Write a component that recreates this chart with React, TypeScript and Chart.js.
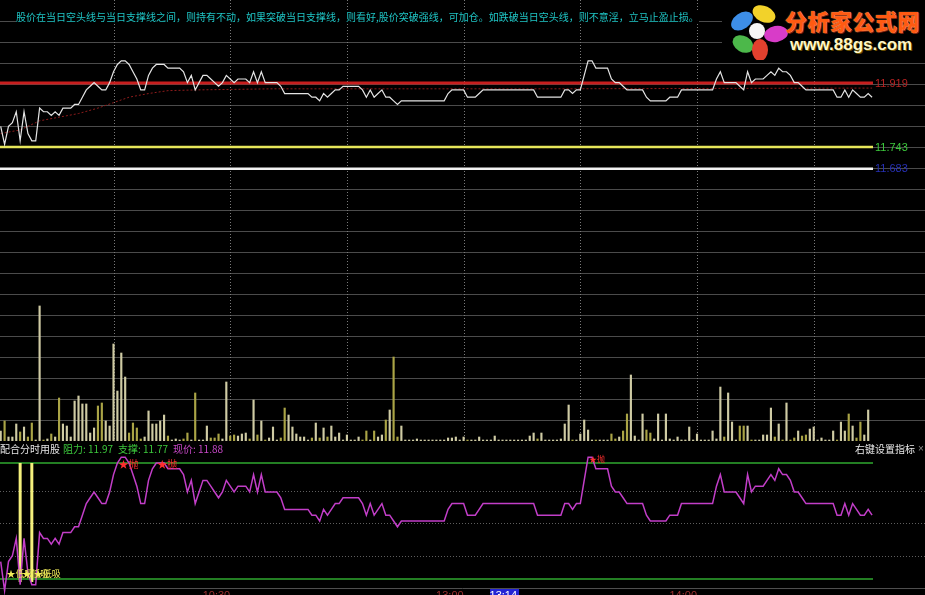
import { useEffect, useRef } from "react";
import { Chart, registerables } from "chart.js";

Chart.register(...registerables);

// ---------------- data (one value per minute, index 0 = 9:31) ----------------
const PRICE: number[] = [
  11.80, 11.75, 11.80, 11.81, 11.84, 11.76, 11.84, 11.78, 11.76, 11.76,
  11.85, 11.84, 11.84, 11.83, 11.84, 11.83, 11.85, 11.85, 11.85, 11.86,
  11.86, 11.88, 11.90, 11.91, 11.92, 11.91, 11.90, 11.90, 11.92, 11.95,
  11.97, 11.98, 11.98, 11.97, 11.95, 11.93, 11.90, 11.90, 11.94, 11.96,
  11.97, 11.97, 11.97, 11.96, 11.96, 11.96, 11.96, 11.95, 11.92, 11.94,
  11.90, 11.92, 11.94, 11.94, 11.93, 11.92, 11.91, 11.92, 11.94, 11.93,
  11.92, 11.93, 11.93, 11.93, 11.92, 11.95, 11.92, 11.95, 11.92, 11.92,
  11.92, 11.92, 11.91, 11.89, 11.89, 11.89, 11.89, 11.89, 11.89, 11.89,
  11.88, 11.88, 11.87, 11.89, 11.88, 11.89, 11.90, 11.90, 11.91, 11.91,
  11.91, 11.91, 11.91, 11.90, 11.88, 11.90, 11.88, 11.89, 11.90, 11.88,
  11.88, 11.87, 11.86, 11.87, 11.87, 11.87, 11.87, 11.87, 11.87, 11.87,
  11.87, 11.87, 11.87, 11.87, 11.87, 11.89, 11.90, 11.90, 11.90, 11.90,
  11.88, 11.88, 11.88, 11.89, 11.90, 11.90, 11.90, 11.90, 11.90, 11.90,
  11.90, 11.90, 11.90, 11.90, 11.90, 11.90, 11.90, 11.90, 11.88, 11.88,
  11.88, 11.88, 11.88, 11.88, 11.88, 11.90, 11.90, 11.89, 11.90, 11.90,
  11.94, 11.98, 11.98, 11.96, 11.96, 11.96, 11.96, 11.93, 11.92, 11.92,
  11.91, 11.90, 11.90, 11.90, 11.90, 11.90, 11.88, 11.87, 11.87, 11.87,
  11.87, 11.87, 11.88, 11.88, 11.88, 11.90, 11.90, 11.90, 11.90, 11.90,
  11.90, 11.90, 11.90, 11.90, 11.93, 11.95, 11.92, 11.92, 11.92, 11.92,
  11.91, 11.90, 11.95, 11.92, 11.93, 11.93, 11.93, 11.94, 11.95, 11.94,
  11.96, 11.95, 11.95, 11.94, 11.92, 11.92, 11.91, 11.90, 11.90, 11.90,
  11.90, 11.90, 11.90, 11.90, 11.90, 11.88, 11.88, 11.90, 11.88, 11.90,
  11.89, 11.88, 11.88, 11.89, 11.88,
];

const VOLUME: number[] = [
  143, 286, 57, 57, 243, 129, 200, 57, 257, 14,
  1929, 14, 29, 100, 57, 614, 243, 214, 57, 571,
  643, 529, 529, 114, 186, 500, 543, 286, 214, 1386,
  714, 1257, 914, 114, 257, 186, 29, 57, 429, 243,
  243, 286, 371, 71, 14, 29, 14, 29, 114, 14,
  686, 14, 14, 214, 43, 43, 100, 29, 843, 71,
  86, 71, 100, 114, 29, 586, 86, 286, 14, 43,
  200, 14, 43, 471, 371, 200, 100, 57, 57, 14,
  43, 257, 43, 186, 57, 214, 57, 114, 14, 86,
  14, 14, 57, 14, 143, 14, 143, 57, 86, 300,
  443, 1200, 57, 214, 14, 14, 14, 29, 14, 14,
  14, 14, 14, 14, 14, 43, 43, 57, 14, 57,
  14, 14, 14, 57, 14, 14, 14, 71, 14, 14,
  14, 14, 14, 14, 14, 14, 71, 114, 29, 114,
  14, 14, 14, 14, 29, 243, 514, 14, 14, 100,
  300, 157, 14, 14, 14, 14, 14, 100, 29, 57,
  143, 386, 943, 71, 14, 386, 157, 114, 29, 386,
  14, 386, 29, 14, 57, 14, 14, 200, 14, 100,
  14, 14, 14, 143, 29, 771, 57, 686, 271, 14,
  214, 214, 214, 14, 14, 14, 86, 86, 471, 57,
  243, 14, 543, 14, 43, 143, 71, 86, 171, 200,
  14, 43, 14, 14, 143, 14, 271, 143, 386, 214,
  43, 271, 86, 443,
];

// average-price (dotted) line, sampled at these minutes
const AVG_AT: number[] = [0, 5, 10, 15, 20, 25, 29, 33, 38, 43, 50, 70, 100, 140, 180, 224];
const AVG_PRICE: number[] = [11.78, 11.79, 11.815, 11.825, 11.835, 11.85, 11.865, 11.88, 11.89, 11.898, 11.90, 11.903, 11.903, 11.903, 11.904, 11.905];

const BEAR_LINE = 11.919;
const SUPPORT_LINE = 11.743;
const FLOOR_LINE = 11.683;
const RESIST = 11.97;
const SUPPORT = 11.77;
const NOW_PRICE = 11.88;

const HALF_HOURS: number[] = [29, 59, 89, 119, 149, 179, 209];
const TIME_AT: number[] = [59, 119, 179];
const TIME_TEXT: string[] = ["10:30", "13:00", "14:00"];
const CURSOR_AT = 133;
const CURSOR_TEXT = "13:14";
const BUY_BARS: number[] = [5, 8];
const BUY_MARKS: number[] = [1, 5, 8];
const SELL_MARKS: number[] = [30, 40, 151];

const NOTE =
  "股价在当日空头线与当日支撑线之间，则持有不动，如果突破当日支撑线，则看好,股价突破强线，可加仓。如跌破当日空头线，则不意淫，立马止盈止损。";
const TITLE = "配合分时用股";
const VOL_STEP = 300;

const CJK = "'Noto Sans CJK SC', sans-serif";
const LAT = "'Liberation Sans', Arial, sans-serif";

function hline(ctx: CanvasRenderingContext2D, x0: number, x1: number, y: number) {
  ctx.beginPath();
  ctx.moveTo(x0, y);
  ctx.lineTo(x1, y);
  ctx.stroke();
}

const topDecor = {
  id: "topDecor",
  beforeDatasetsDraw(chart: any) {
    const { ctx, chartArea, scales } = chart;
    const W = chart.width;
    const yv = scales.yv, yp = scales.yp, x = scales.x;
    ctx.save();
    ctx.lineWidth = 1;
    ctx.strokeStyle = "#4b4b4b";
    for (let v = VOL_STEP; v < yv.max; v += VOL_STEP) {
      hline(ctx, 0, W, Math.round(yv.getPixelForValue(v)) + 0.5);
    }
    ctx.strokeStyle = "#7a7a7a";
    ctx.setLineDash([1, 2]);
    for (const k of HALF_HOURS) {
      const px = Math.round(x.getPixelForValue(k)) + 0.5;
      ctx.beginPath();
      ctx.moveTo(px, 0);
      ctx.lineTo(px, chartArea.bottom);
      ctx.stroke();
    }
    ctx.setLineDash([]);
    const levels: [number, string, number][] = [
      [BEAR_LINE, "#c81e1e", 3],
      [SUPPORT_LINE, "#e6e65a", 2.5],
      [FLOOR_LINE, "#f2f2f2", 2.5],
    ];
    for (const [v, c, w] of levels) {
      ctx.strokeStyle = c;
      ctx.lineWidth = w;
      hline(ctx, chartArea.left, chartArea.right, yp.getPixelForValue(v));
    }
    ctx.restore();
  },
  afterDatasetsDraw(chart: any) {
    const { ctx, chartArea, scales } = chart;
    const yp = scales.yp;
    ctx.save();
    ctx.font = `11px ${LAT}`;
    ctx.textBaseline = "middle";
    ctx.textAlign = "left";
    const labels: [number, string][] = [
      [BEAR_LINE, "#b82222"],
      [SUPPORT_LINE, "#3cc83c"],
      [FLOOR_LINE, "#2630b4"],
    ];
    for (const [v, c] of labels) {
      ctx.fillStyle = c;
      ctx.fillText(v.toFixed(3), chartArea.right + 2, yp.getPixelForValue(v) + 0.5);
    }
    ctx.restore();
  },
};

const botDecor = {
  id: "botDecor",
  beforeDatasetsDraw(chart: any) {
    const { ctx, chartArea, scales } = chart;
    const W = chart.width;
    const g = scales.g, yp = scales.yp, x = scales.x;
    ctx.save();
    ctx.lineWidth = 1;
    ctx.strokeStyle = "#5e5e5e";
    ctx.setLineDash([1, 2]);
    for (const v of [1, 2, 3]) hline(ctx, 0, W, Math.round(g.getPixelForValue(v)) + 0.5);
    ctx.setLineDash([]);
    ctx.strokeStyle = "#4e4e4e";
    hline(ctx, 0, W, Math.round(g.getPixelForValue(0)) + 0.5);
    ctx.strokeStyle = "#2fa82f";
    ctx.lineWidth = 1.5;
    for (const v of [RESIST, SUPPORT]) hline(ctx, chartArea.left, chartArea.right, yp.getPixelForValue(v));
    ctx.strokeStyle = "#f4f07c";
    ctx.lineWidth = 3;
    for (const k of BUY_BARS) {
      const px = x.getPixelForValue(k);
      ctx.beginPath();
      ctx.moveTo(px, yp.getPixelForValue(RESIST));
      ctx.lineTo(px, yp.getPixelForValue(SUPPORT) + 3);
      ctx.stroke();
    }
    ctx.restore();
  },
  afterDatasetsDraw(chart: any) {
    const { ctx, scales } = chart;
    const g = scales.g, yp = scales.yp, x = scales.x;
    ctx.save();
    ctx.textAlign = "left";
    ctx.fillStyle = "#ff2e2e";
    ctx.textBaseline = "middle";
    SELL_MARKS.forEach((k, i) => {
      ctx.font = `${i === 2 ? 8 : 10}px ${CJK}`;
      ctx.fillText("★抛", x.getPixelForValue(k) + 1, yp.getPixelForValue(RESIST) + (i === 2 ? -4 : 1));
    });
    ctx.fillStyle = "#f2ee5a";
    ctx.font = `9px ${CJK}`;
    ctx.textBaseline = "bottom";
    for (const k of BUY_MARKS) {
      ctx.fillText("★低吸", x.getPixelForValue(k) + 2, yp.getPixelForValue(SUPPORT) - 1);
    }
    const ty = Math.round(g.getPixelForValue(0)) + 2;
    ctx.font = `11px ${LAT}`;
    ctx.textBaseline = "top";
    ctx.textAlign = "right";
    ctx.fillStyle = "#9c3030";
    TIME_AT.forEach((k, i) => ctx.fillText(TIME_TEXT[i], x.getPixelForValue(k), ty));
    const cx = x.getPixelForValue(CURSOR_AT);
    ctx.fillStyle = "#2424d4";
    ctx.fillRect(cx - 28, ty - 1, 29, 14);
    ctx.fillStyle = "#ffffff";
    ctx.fillText(CURSOR_TEXT, cx - 1, ty);
    ctx.restore();
  },
};

const makeX = () => ({ type: "linear", axis: "x", position: "bottom", display: false, offset: false, min: -0.18, max: 224.24 });

export default function App() {
  const topRef = useRef<HTMLCanvasElement>(null);
  const botRef = useRef<HTMLCanvasElement>(null);

  useEffect(() => {
    const volColors = VOLUME.map((_, i) =>
      i === 0 || PRICE[i] >= PRICE[i - 1] ? "#cfcba4" : "#aaa446"
    );

    const top = new Chart(topRef.current as HTMLCanvasElement, {
      type: "line",
      data: {
        datasets: [
          {
            type: "line",
            data: PRICE.map((p, i) => ({ x: i, y: p })),
            borderColor: "#e4e4e4",
            borderWidth: 1.2,
            pointRadius: 0,
            tension: 0,
            yAxisID: "yp",
          },
          {
            type: "line",
            data: AVG_AT.map((k, i) => ({ x: k, y: AVG_PRICE[i] })),
            borderColor: "#8e1c1c",
            borderWidth: 1,
            borderDash: [2, 2],
            pointRadius: 0,
            yAxisID: "yp",
          },
          {
            type: "bar",
            data: VOLUME.map((v, i) => ({ x: i, y: v })),
            backgroundColor: volColors,
            barThickness: 1.5,
            yAxisID: "yv",
          },
        ],
      } as any,
      options: {
        animation: false,
        responsive: false,
        events: [],
        layout: { padding: { left: 0, right: 52, top: 0, bottom: 1 } },
        plugins: { legend: { display: false }, tooltip: { enabled: false } },
        scales: {
          x: makeX(),
          yp: { type: "linear", axis: "y", position: "left", display: false, min: 10.9344, max: 12.1473 },
          yv: { type: "linear", axis: "y", position: "right", display: false, min: 0, max: 6300 },
        },
      } as any,
      plugins: [topDecor],
    });

    const bot = new Chart(botRef.current as HTMLCanvasElement, {
      type: "line",
      data: {
        datasets: [
          {
            data: PRICE.map((p, i) => ({ x: i, y: p })),
            borderColor: "#c23ec8",
            borderWidth: 1.5,
            pointRadius: 0,
            tension: 0,
            yAxisID: "yp",
          },
        ],
      } as any,
      options: {
        animation: false,
        responsive: false,
        events: [],
        layout: { padding: { left: 0, right: 52, top: 0, bottom: 0 } },
        plugins: { legend: { display: false }, tooltip: { enabled: false } },
        scales: {
          x: makeX(),
          yp: { type: "linear", axis: "y", position: "left", display: false, min: 11.7424, max: 12.0079 },
          g: { type: "linear", axis: "y", position: "right", display: false, min: -0.215, max: 4.523 },
        },
      } as any,
      plugins: [botDecor],
    });

    return () => {
      top.destroy();
      bot.destroy();
    };
  }, []);

  const abs = (l: number, t: number, extra: any = {}) => ({
    position: "absolute" as const,
    left: l,
    top: t,
    whiteSpace: "nowrap" as const,
    ...extra,
  });

  return (
    <div
      style={{
        position: "fixed",
        left: 0,
        top: 0,
        width: 925,
        height: 595,
        background: "#000",
        overflow: "hidden",
      }}
    >
      <canvas ref={topRef} width={925} height={442} style={{ position: "absolute", left: 0, top: 0 }} />
      <canvas ref={botRef} width={925} height={154} style={{ position: "absolute", left: 0, top: 441 }} />

      <div style={abs(16, 11, { fontFamily: CJK, fontSize: 10, lineHeight: "12px", color: "#1fc6c6", background: "#000" })}>
        {NOTE}
      </div>

      <div style={abs(722, 0, { width: 203, height: 57, background: "#000" })}>
        <svg width={70} height={60} style={{ position: "absolute", left: 0, top: 0 }}>
          <ellipse cx={20} cy={21} rx={12} ry={8} fill="#3d8ee8" transform="rotate(-35 20 21)" />
          <ellipse cx={42} cy={14} rx={12} ry={8} fill="#f2d22a" transform="rotate(25 42 14)" />
          <ellipse cx={54} cy={34} rx={12} ry={8} fill="#d83cc8" transform="rotate(-10 54 34)" />
          <ellipse cx={21} cy={44} rx={11} ry={8} fill="#4cb84a" transform="rotate(30 21 44)" />
          <ellipse cx={38} cy={50} rx={8} ry={11} fill="#e2402e" />
          <circle cx={35} cy={31} r={8} fill="#f6f6f6" />
        </svg>
        <div
          style={abs(63, 6, {
            fontFamily: CJK,
            fontWeight: 900,
            fontSize: 22,
            lineHeight: "28px",
            letterSpacing: 0.5,
            color: "#ff5a12",
            textShadow: "0 0 1px #ffe0a0, 1px 1px 0 #7a1800",
          })}
        >
          分析家公式网
        </div>
        <div
          style={abs(68, 35, {
            fontFamily: LAT,
            fontWeight: 700,
            fontSize: 17,
            lineHeight: "20px",
            color: "#fff6c8",
            textShadow: "1px 1px 0 #6a5000",
          })}
        >
          www.88gs.com
        </div>
      </div>

      <div style={abs(0, 443, { fontFamily: CJK, fontSize: 10, lineHeight: "12px", color: "#e4e4e4" })}>{TITLE}</div>
      <div style={abs(63, 443, { fontFamily: CJK, fontSize: 10, lineHeight: "12px", color: "#3cc83c" })}>
        阻力: {RESIST.toFixed(2)}
      </div>
      <div style={abs(118, 443, { fontFamily: CJK, fontSize: 10, lineHeight: "12px", color: "#3cc83c" })}>
        支撑: {SUPPORT.toFixed(2)}
      </div>
      <div style={abs(173, 443, { fontFamily: CJK, fontSize: 10, lineHeight: "12px", color: "#c848c8" })}>
        现价: {NOW_PRICE.toFixed(2)}
      </div>
      <div style={abs(855, 443, { fontFamily: CJK, fontSize: 10, lineHeight: "12px", color: "#e8e8e8" })}>
        右键设置指标
      </div>
      <div style={abs(918, 443, { fontFamily: LAT, fontSize: 10, lineHeight: "12px", color: "#8a8a8a" })}>×</div>
    </div>
  );
}
